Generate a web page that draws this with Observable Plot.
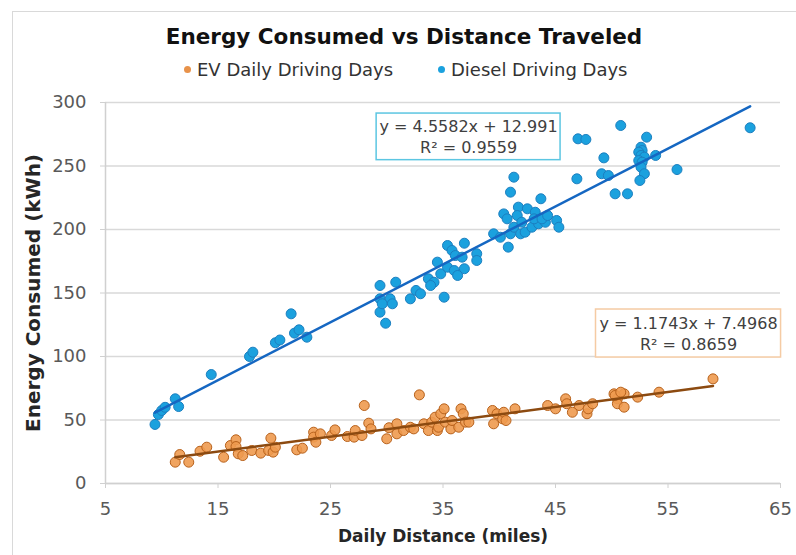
<!DOCTYPE html>
<html>
<head>
<meta charset="utf-8">
<script src="https://cdn.jsdelivr.net/npm/d3@7"></script>
<script src="https://cdn.jsdelivr.net/npm/@observablehq/plot@0.6"></script>
<style>
  body { margin: 0; background: #fff; font-family: "DejaVu Sans", sans-serif; }
  #frame { position: absolute; left: 12px; top: 11px; width: 784px; height: 544px; border-left: 1px solid #d9d9d9; border-top: 1px solid #d9d9d9; box-sizing: border-box; pointer-events: none; }
  #header { position: relative; height: 90px; }
  #title { position: absolute; left: 0; width: 808px; top: 26px; text-align: center; font-weight: bold; font-size: 21.5px; line-height: 1; color: #111; white-space: nowrap; }
  .leg { position: absolute; top: 61px; font-size: 18px; line-height: 1; color: #333; white-space: nowrap; }
  .dot { position: absolute; width: 7px; height: 7px; border-radius: 50%; }
</style>
</head>
<body>
<div id="header">
  <div id="title">Energy Consumed vs Distance Traveled</div>
  <span class="dot" style="left:184px;top:66px;background:#E8924A"></span>
  <span class="leg" style="left:197px">EV Daily Driving Days</span>
  <span class="dot" style="left:438px;top:66px;background:#1BA1DE"></span>
  <span class="leg" style="left:451px">Diesel Driving Days</span>
</div>
<div id="chart"></div>
<div id="frame"></div>
<script>
// ---- Data ----
const xTicks = [5, 15, 25, 35, 45, 55, 65];
const yTicks = [0, 50, 100, 150, 200, 250, 300];

const seriesNames = ["EV Daily Driving Days", "Diesel Driving Days"];

const dieselX = [9.4, 9.7, 10.0, 10.3, 11.2, 11.5, 14.4, 17.8, 18.1, 20.1, 20.5, 21.5, 21.8, 22.2, 22.9,
  29.4, 29.9, 29.4, 30.3, 29.6, 30.5, 29.4, 30.8, 32.1, 32.6, 33.0, 35.1, 33.7, 34.2, 33.9, 34.8, 34.5,
  35.4, 36.0, 36.9, 36.3, 35.4, 35.8, 36.9, 36.1, 36.7, 38.0, 38.0, 39.5, 40.1, 40.8, 41.0, 41.3, 41.9,
  42.3, 42.9, 43.5, 44.1, 40.4, 40.7, 41.7, 42.5, 43.2, 41.6, 42.0, 43.1, 43.8, 44.3, 45.1, 45.3, 43.7,
  41.0, 41.3, 46.9, 47.0, 47.7, 49.1, 49.7, 49.3, 50.3, 51.4, 50.8, 52.6, 52.7, 52.4, 52.6, 52.9, 53.9,
  52.4, 52.7, 52.6, 52.9, 52.5, 53.1, 55.8, 62.3];
const dieselY = [46.5, 54.3, 57.5, 60, 66.7, 60.6, 85.8, 100, 103.4, 110.8, 113, 133.6, 118.4, 121, 115.2,
  134.9, 126.2, 145.4, 145.4, 141.5, 141.5, 155.9, 158.5, 145.4, 152, 149.4, 146.7, 161.2, 158.5, 155.9, 165.1, 174.3,
  170.3, 167.7, 169.1, 163.8, 187.4, 183.5, 189.2, 179.5, 178.2, 180.9, 175.6, 196.6, 193.9, 186.1, 196.6, 201.8, 196.6,
  197.9, 201.8, 204.5, 205.7, 212.3, 208.4, 217.6, 216.3, 213.6, 211, 205.7, 208.4, 208.4, 211, 207.1, 201.8, 224.2,
  229.4, 241.2, 239.9, 271.4, 270.9, 243.9, 242.5, 256.4, 228.1, 228.1, 281.9, 264.8, 262.2, 260.9, 258.3, 257, 258.3,
  254.3, 253, 249.1, 243.9, 238.6, 272.7, 247.2, 280.1];

const evX = [11.2, 11.6, 12.4, 13.4, 14.0, 15.5, 16.1, 16.6, 16.6, 16.8, 17.2, 18.0, 18.8, 19.5, 19.7, 19.9,
  20.1, 22.0, 22.5, 23.5, 23.5, 23.7, 24.1, 25.1, 25.4, 26.5, 27.1, 27.2, 27.8, 28.0, 28.4, 28.6, 30.0,
  30.2, 30.9, 30.9, 31.5, 32.1, 32.4, 32.9, 33.3, 33.7, 34.0, 34.3, 34.5, 34.6, 34.8, 35.1, 35.2, 35.7,
  35.8, 36.4, 36.6, 36.8, 37.0, 37.3, 39.4, 39.5, 39.8, 40.3, 40.4, 40.6, 41.4, 44.3, 45.0, 45.9, 46.0,
  46.5, 47.1, 47.8, 47.9, 48.3, 50.2, 50.5, 51.1, 50.5, 51.1, 50.3, 50.8, 52.3, 54.2, 59.0];
const evY = [16.8, 22.8, 16.8, 25.4, 28.6, 20.7, 29.9, 34.4, 29.1, 23.4, 22, 26, 23.9, 26, 35.7, 24.7,
  28.6, 26.5, 27.8, 40.4, 36.5, 32.5, 39.1, 37.8, 42.2, 37, 36.5, 41.7, 37.8, 61.4, 47.5, 43, 35.2,
  43.9, 47, 39.1, 41.7, 44.3, 43, 69.8, 47, 41.7, 48.3, 52.2, 41.7, 44.3, 54.9, 58.8, 48.3, 43,
  49.6, 44.3, 58.8, 54.9, 48.3, 48.3, 57.5, 47, 54.9, 50.9, 56.1, 49.6, 58.8, 61.4, 58.8, 66.7, 62.8,
  56.1, 61.4, 54.9, 58.8, 62.8, 70.6, 66.7, 70.6, 62.8, 60.1, 69.3, 71.9, 68, 71.9, 82.4];

// Trendline equations as printed on the chart
const dieselSlope = 4.5582, dieselIntercept = 12.991, dieselR2 = "0.9559";
const evSlope = 1.1743, evIntercept = 7.4968, evR2 = "0.8659";

// Equation label boxes (data units)
const boxXs = [[29.1, 45.45], [48.6, 65.05]];
const boxYs = [[254.6, 291.3], [99.2, 137.0]];

// ---- Build tables ----
const diesel = dieselX.map((x, i) => ({x, y: dieselY[i]}));
const ev = evX.map((x, i) => ({x, y: evY[i]}));
const trend = (xs, m, b) => d3.extent(xs).map(x => ({x, y: m * x + b}));
const dieselTrend = trend(dieselX, dieselSlope, dieselIntercept);
const evTrend = trend(evX, evSlope, evIntercept);

const boxes = [
  {x1: boxXs[0][0], x2: boxXs[0][1], y1: boxYs[0][0], y2: boxYs[0][1],
   l1: `y = ${dieselSlope}x + ${dieselIntercept}`, l2: `R² = ${dieselR2}`, stroke: "#5CC6E2"},
  {x1: boxXs[1][0], x2: boxXs[1][1], y1: boxYs[1][0], y2: boxYs[1][1],
   l1: `y = ${evSlope}x + ${evIntercept}`, l2: `R² = ${evR2}`, stroke: "#F5CBA4"}
];
boxes.forEach(b => { b.cx = (b.x1 + b.x2) / 2; b.cy = (b.y1 + b.y2) / 2; });

const chart = Plot.plot({
  width: 796,
  height: 465,
  marginTop: 12,
  marginBottom: 72,
  marginLeft: 105,
  marginRight: 16,
  style: {fontFamily: "DejaVu Sans, sans-serif", background: "#fff", overflow: "visible"},
  x: {domain: [5, 65]},
  y: {domain: [0, 300]},
  marks: [
    Plot.gridY(yTicks, {stroke: "#d9d9d9", strokeOpacity: 1, strokeWidth: 1.5}),
    Plot.ruleX([5], {stroke: "#d0d0d0", strokeWidth: 1.5}),
    Plot.ruleY([0], {stroke: "#d0d0d0", strokeWidth: 1.5}),
    Plot.axisY(yTicks, {tickSize: 5, tickPadding: 14, stroke: "#d0d0d0", fill: "#595959", fontSize: 18, label: null}),
    Plot.axisX(xTicks, {tickSize: 5, tickPadding: 14, stroke: "#d0d0d0", fill: "#595959", fontSize: 18, label: null}),
    Plot.text(["Energy Consumed (kWh)"], {text: d => d, frameAnchor: "left", textAnchor: "middle", lineAnchor: "middle", dx: -72, rotate: -90, fontWeight: "bold", fontSize: 20, fill: "#262626"}),
    Plot.text(["Daily Distance (miles)"], {text: d => d, frameAnchor: "bottom", lineAnchor: "middle", dy: 53, fontWeight: "bold", fontSize: 17, fill: "#262626"}),
    Plot.dot(ev, {x: "x", y: "y", r: 5, fill: "#EE9A4F", fillOpacity: 0.9, stroke: "#B8621C", strokeWidth: 1}),
    Plot.dot(diesel, {x: "x", y: "y", r: 5, fill: "#1BA1DE", stroke: "#1C7FC0", strokeWidth: 1}),
    Plot.line(dieselTrend, {x: "x", y: "y", stroke: "#1567C2", strokeWidth: 2.5}),
    Plot.line(evTrend, {x: "x", y: "y", stroke: "#8C4A10", strokeWidth: 2.5}),
    Plot.rect(boxes, {x1: "x1", x2: "x2", y1: "y1", y2: "y2", fill: "#fff", stroke: "stroke", strokeWidth: 1.5}),
    Plot.text(boxes, {x: "cx", y: "cy", text: "l1", dy: -10, fontSize: 16, fill: "#404040"}),
    Plot.text(boxes, {x: "cx", y: "cy", text: "l2", dy: 11, fontSize: 16, fill: "#404040"})
  ]
});
document.getElementById("chart").appendChild(chart);
</script>
</body>
</html>
